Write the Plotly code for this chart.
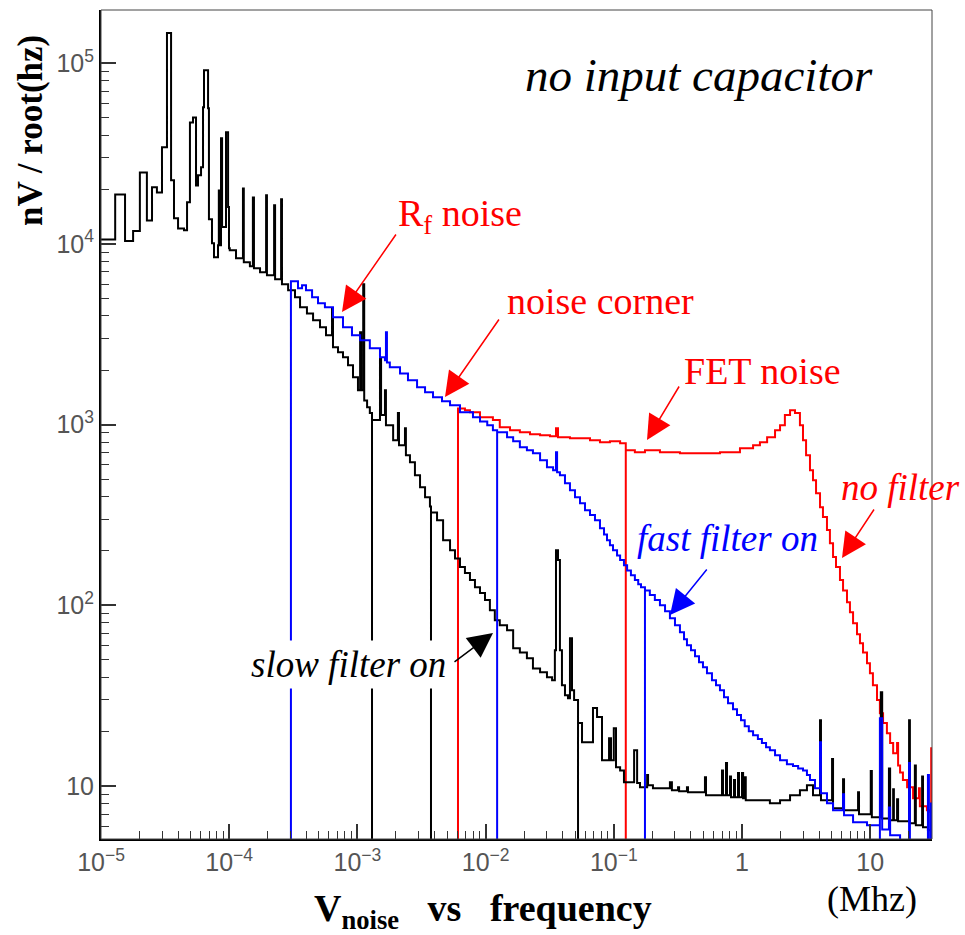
import plotly.graph_objects as go

# ---------------- data (frequency in MHz, noise in nV/sqrt(Hz)) ----------------
# each series is a stepped histogram; a value of 1 marks a drop to the bottom between sub-ranges
black_f = [1.00e-5, 1.29e-5, 1.54e-5, 1.78e-5, 2.01e-5, 2.28e-5, 2.50e-5, 2.73e-5, 2.99e-5, 3.27e-5,
           3.52e-5, 3.71e-5, 3.99e-5, 4.44e-5, 4.69e-5, 4.94e-5, 5.22e-5, 5.51e-5, 5.71e-5, 6.03e-5,
           6.25e-5, 6.36e-5, 6.84e-5, 6.95e-5, 7.34e-5, 7.61e-5, 8.18e-5, 8.30e-5, 8.47e-5, 8.63e-5,
           8.80e-5, 9.44e-5, 9.80e-5, 9.96e-5,
           1.01e-4, 1.13e-4, 1.28e-4, 1.30e-4, 1.45e-4, 1.53e-4, 1.56e-4, 1.74e-4, 1.94e-4, 1.97e-4,
           2.24e-4, 2.28e-4, 2.54e-4, 2.58e-4, 2.88e-4, 3.26e-4, 3.57e-4, 4.04e-4, 4.51e-4, 5.11e-4,
           5.69e-4, 6.34e-4, 6.45e-4, 7.06e-4, 7.72e-4, 8.45e-4, 9.24e-4, 1.01e-3, 1.05e-3, 1.07e-3,
           1.11e-3, 1.13e-3, 1.19e-3, 1.25e-3, 1.30e-3,
           1.30e-3, 1.50e-3, 1.53e-3, 1.64e-3, 1.67e-3, 1.90e-3, 2.07e-3, 2.11e-3, 2.35e-3, 2.39e-3,
           2.57e-3, 2.81e-3, 3.08e-3, 3.37e-3, 3.68e-3, 3.75e-3,
           3.75e-3, 4.18e-3, 4.66e-3, 5.28e-3, 5.77e-3, 6.31e-3, 6.90e-3, 7.55e-3, 8.26e-3, 9.04e-3,
           9.89e-3, 1.08e-2, 1.18e-2, 1.29e-2, 1.47e-2, 1.64e-2, 1.85e-2, 2.10e-2, 2.34e-2, 2.66e-2,
           3.01e-2, 3.30e-2, 3.47e-2, 3.54e-2, 3.67e-2, 3.80e-2, 3.94e-2, 4.16e-2, 4.39e-2, 4.55e-2,
           4.72e-2, 4.90e-2, 5.26e-2,
           5.26e-2, 5.65e-2, 6.88e-2, 7.40e-2, 8.09e-2, 9.18e-2, 9.51e-2, 1.00e-1, 1.04e-1, 1.12e-1,
           1.20e-1, 1.44e-1, 1.52e-1, 1.60e-1, 1.82e-1, 1.85e-1, 2.02e-1, 2.74e-1, 2.84e-1, 3.17e-1,
           3.23e-1, 3.72e-1, 3.79e-1, 5.14e-1, 5.24e-1, 6.98e-1, 7.11e-1, 7.50e-1, 7.64e-1, 8.06e-1,
           8.21e-1, 8.66e-1, 8.82e-1, 9.31e-1, 9.48e-1, 1.00, 1.02, 1.05, 1.07, 1.31,
           1.65, 1.98, 2.37, 2.83, 3.21, 3.58, 4.06, 4.13, 5.04, 5.13,
           6.14, 6.25, 8.04, 8.18, 10.1, 10.3, 12.1, 12.4, 14.0, 14.3,
           15.1, 15.3, 16.2, 16.5, 20.1, 20.4, 22.3, 22.7, 25.4, 25.8,
           28.2, 34.0]
black_v = [1.06e4, 1.88e4, 1.04e4, 1.18e4, 2.49e4, 1.35e4, 2.06e4, 1.93e4, 3.43e4, 1.47e5,
           2.25e4, 1.39e4, 1.22e4, 1.19e4, 1.70e4, 4.71e4, 5.02e4, 2.11e4, 2.40e4, 2.66e4,
           5.71e4, 9.15e4, 5.64e4, 1.37e4, 1.01e4, 8.44e3, 9.84e3, 1.98e4, 9.84e3, 3.85e4,
           1.24e4, 4.15e4, 1.60e4, 9.47e3,
           9.23e3, 8.34e3, 2.03e4, 7.92e3, 7.54e3, 1.81e4, 7.35e3, 6.97e3, 1.86e4, 6.72e3,
           1.64e4, 6.38e3, 1.77e4, 5.98e3, 5.54e3, 5.07e3, 4.47e3, 4.13e3, 3.78e3, 3.46e3,
           3.13e3, 4.41e3, 2.68e3, 2.52e3, 2.36e3, 2.13e3, 1.83e3, 1.55e3, 3.25e3, 1.55e3,
           5.98e3, 1.36e3, 1.25e3, 1.16e3, 1,
           1.06e3, 2.33e3, 1.13e3, 1.55e3, 993, 820, 1.16e3, 769, 955, 678,
           620, 525, 451, 397, 353, 1,
           327, 296, 229, 202, 182, 163, 151, 138, 126, 117,
           107, 94.0, 82.8, 77.6, 72.8, 57.9, 54.9, 50.9, 44.8, 42.7,
           40.0, 38.5, 56.4, 202, 178, 56.4, 36.1, 31.8, 30.6, 65.8,
           33.9, 29.9, 1,
           22.3, 17.5, 27.0, 24.1, 13.9, 18.4, 13.9, 20.9, 12.7, 12.2,
           10.5, 15.8, 10.4, 9.84, 11.5, 10.1, 9.72, 10.5, 9.48, 9.84,
           9.36, 9.84, 9.24, 11.2, 8.89, 12.2, 8.89, 13.4, 8.89, 11.3,
           8.67, 10.8, 8.67, 11.8, 8.67, 11.8, 8.56, 11.2, 8.34, 8.34,
           8.04, 8.34, 8.89, 9.48, 10.1, 8.89, 23.1, 8.34, 14.1, 7.53,
           10.9, 7.35, 9.24, 6.98, 12.1, 6.72, 33.0, 6.62, 12.5, 6.47,
           9.60, 6.47, 8.45, 6.38, 23.1, 6.22, 13.0, 6.07, 11.3, 5.92,
           5.70, 5.70]

blue_f = [3.03e-4, 3.03e-4, 3.44e-4, 3.70e-4, 3.97e-4, 4.43e-4, 4.93e-4, 5.58e-4, 6.45e-4, 7.72e-4,
          9.07e-4, 1.05e-3, 1.25e-3, 1.50e-3, 1.64e-3, 1.67e-3, 1.70e-3, 1.79e-3, 2.15e-3, 2.48e-3,
          2.92e-3, 3.37e-3, 3.89e-3, 4.57e-3, 5.28e-3, 6.31e-3, 7.97e-3, 9.04e-3, 1.03e-2, 1.14e-2,
          1.23e-2,
          1.23e-2, 1.47e-2, 1.64e-2, 1.85e-2, 2.10e-2, 2.34e-2, 2.66e-2, 3.01e-2, 3.36e-2, 3.54e-2,
          3.61e-2, 3.80e-2, 4.16e-2, 4.55e-2, 4.98e-2, 5.45e-2, 5.96e-2, 6.52e-2, 7.13e-2, 7.80e-2,
          8.39e-2, 8.85e-2, 9.33e-2, 9.86e-2, 1.06e-1, 1.12e-1, 1.20e-1, 1.27e-1, 1.36e-1, 1.46e-1,
          1.55e-1, 1.63e-1, 1.75e-1,
          1.75e-1, 1.91e-1, 2.09e-1, 2.29e-1, 2.51e-1, 2.74e-1, 3.00e-1, 3.28e-1, 3.53e-1, 3.72e-1,
          4.00e-1, 4.30e-1, 4.62e-1, 4.96e-1, 5.33e-1, 5.83e-1, 6.27e-1, 6.73e-1, 7.24e-1, 7.78e-1,
          8.51e-1, 9.14e-1, 9.82e-1, 1.05, 1.13, 1.22, 1.33, 1.43, 1.54, 1.65,
          1.81, 1.98, 2.24, 2.50, 2.74, 2.99, 3.21, 3.39, 3.71, 4.06,
          4.13, 4.60, 5.13, 6.14, 6.25, 7.35, 9.44, 11.9,
          11.9, 12.4, 14.0, 14.3, 15.1, 17.1, 20.1,
          20.1, 20.4, 28.2,
          28.2, 28.7, 29.8,
          29.8, 35.0]
blue_v = [1, 6.22e3, 5.69e3, 5.91e3, 5.54e3, 5.07e3, 4.70e3, 4.47e3, 3.93e3, 3.46e3,
          3.13e3, 2.93e3, 2.65e3, 2.36e3, 2.27e3, 3.25e3, 2.21e3, 2.08e3, 1.92e3, 1.76e3,
          1.61e3, 1.51e3, 1.42e3, 1.35e3, 1.28e3, 1.17e3, 1.10e3, 1.04e3, 993, 931,
          1,
          908, 851, 809, 750, 722, 695, 636, 581, 560, 703,
          546, 525, 474, 433, 397, 367, 336, 316, 296, 267,
          247, 229, 215, 202, 189, 178, 167, 156, 147, 138,
          131, 126, 1,
          121, 114, 107, 100, 92.7, 84.9, 77.6, 70.9, 64.9, 60.1,
          56.4, 52.3, 48.4, 45.4, 42.1, 38.5, 36.1, 33.9, 31.0, 28.7,
          26.6, 24.7, 23.1, 21.4, 20.1, 19.1, 18.2, 17.3, 16.4, 15.8,
          14.8, 13.9, 13.2, 12.9, 12.5, 12.2, 11.5, 10.8, 9.72, 17.5,
          9.12, 8.04, 7.35, 9.02, 6.89, 6.31, 6.07, 1,
          23.7, 5.75, 7.6, 5.34, 5.34, 5.0, 1,
          13.4, 4.8, 1,
          11.5, 4.8, 1,
          8.0, 8.0]

red_f = [6.09e-3, 6.09e-3, 6.90e-3, 7.55e-3, 9.04e-3, 1.14e-2, 1.29e-2, 1.55e-2, 1.85e-2, 2.22e-2,
         2.66e-2, 3.18e-2, 3.54e-2, 3.67e-2, 4.55e-2, 5.45e-2, 6.52e-2, 7.80e-2, 9.33e-2, 1.12e-1,
         1.24e-1,
         1.24e-1, 1.46e-1, 1.75e-1, 2.29e-1, 3.28e-1, 4.70e-1, 6.73e-1, 9.64e-1, 1.22, 1.38,
         1.57, 1.81, 1.98, 2.16, 2.37, 2.59, 2.83, 2.99, 3.16, 3.39,
         3.58, 3.78, 4.06, 4.28, 4.60, 4.85, 5.13, 5.41, 5.81, 6.14,
         6.59, 6.95, 7.35, 7.89, 8.32, 8.79, 9.44, 9.95, 10.5, 11.3,
         11.9, 12.6, 13.5, 14.3, 15.1, 16.2, 16.5, 17.1, 18.0, 19.4,
         21.6, 24.0, 24.4, 27.7, 29.3, 29.9, 30.4]
red_v = [1, 1.23e3, 1.20e3, 1.17e3, 1.10e3, 1.06e3, 968, 931, 908, 885,
         873, 862, 955, 851, 841, 841, 820, 800, 809, 789,
         1,
         722, 703, 722, 703, 695, 695, 703, 740, 769, 800,
         851, 931, 993, 1130, 1200, 1160, 993, 820, 678, 560,
         492, 417, 349, 308, 261, 221, 185, 163, 138, 121,
         104, 91.6, 79.6, 69.2, 61.7, 54.9, 47.8, 42.1, 36.1, 29.9,
         25.3, 22.3, 19.6, 17.3, 15.2, 17.3, 13.0, 11.9, 10.8, 9.84,
         8.56, 9.72, 7.72, 7.35, 7.2, 16.2, 1]

assert len(black_f) == len(black_v)
assert len(blue_f) == len(blue_v)
assert len(red_f) == len(red_v)

x_tick_vals = [1e-5, 1e-4, 1e-3, 1e-2, 1e-1, 1, 10]
x_tick_text = ["10<sup>\u22125</sup>", "10<sup>\u22124</sup>", "10<sup>\u22123</sup>",
               "10<sup>\u22122</sup>", "10<sup>\u22121</sup>", "1", "10"]
y_tick_vals = [10, 100, 1000, 10000, 100000]
y_tick_text = ["10", "10<sup>2</sup>", "10<sup>3</sup>", "10<sup>4</sup>", "10<sup>5</sup>"]

x_minor = [m * 10.0 ** e for e in range(-5, 2) for m in range(2, 10)]
y_minor = [m * 10.0 ** e for e in range(0, 6) for m in range(2, 10)]

# ---------------- figure ----------------
fig = go.Figure()
for f, v, c in [(red_f, red_v, "#ff0000"), (black_f, black_v, "#000000"), (blue_f, blue_v, "#0000ff")]:
    fig.add_trace(go.Scatter(x=f, y=v, mode="lines", line=dict(color=c, width=2, shape="hv"),
                             hoverinfo="skip"))

W, H = 965, 935
L, R, T, B = 101, 33, 10, 96
PW, PH = W - L - R, H - T - B


def px(x):
    return (x - L) / PW


def py(y):
    return (H - B - y) / PH


SERIF = "Liberation Serif"
annotations = []


def text(t, x, y, size, color="black", bold=False, italic=False, angle=0, bg=None, pad=1):
    s = t
    if bold:
        s = "<b>" + s + "</b>"
    if italic:
        s = "<i>" + s + "</i>"
    d = dict(text=s, x=px(x), y=py(y), xref="paper", yref="paper", showarrow=False,
             xanchor="center", yanchor="middle", textangle=angle,
             font=dict(family=SERIF, size=size, color=color), borderpad=pad)
    if bg:
        d["bgcolor"] = bg
    annotations.append(d)


def arrow(tip, tail, color):
    annotations.append(dict(text="", x=px(tip[0]), y=py(tip[1]), xref="paper", yref="paper",
                            showarrow=True, ax=tail[0] - tip[0], ay=tail[1] - tip[1],
                            arrowhead=2, arrowsize=3.3, arrowwidth=1.5, arrowcolor=color))


text("no input capacitor", 699, 75, 47, italic=True)
text("R<sub>f</sub> noise", 460, 216, 38, color="#ff0000")
text("noise corner", 600, 301, 38, color="#ff0000")
text("FET noise", 762, 371, 38, color="#ff0000")
text("no filter", 900, 487, 37, color="#ff0000", italic=True)
text("fast filter on", 727, 539, 37, color="#0000ff", italic=True)
text("slow filter on", 348, 664, 37, italic=True, bg="white", pad=3)
text("(Mhz)", 872, 899, 36)
text("V<sub>noise</sub>\u00a0\u00a0 vs \u00a0\u00a0frequency", 483, 911, 38, bold=True)
text("nV / root(hz)", 31, 131, 35, bold=True, angle=-90)

arrow((342, 312), (397, 233), "#ff0000")
arrow((445, 397), (500, 318), "#ff0000")
arrow((647, 440), (680, 385), "#ff0000")
arrow((842, 558), (875, 508), "#ff0000")
arrow((670, 615), (708, 568), "#0000ff")
arrow((493, 633), (453, 663), "#000000")

tickfont = dict(family="Liberation Sans", size=25, color="#555555")
common = dict(type="log", showgrid=False, zeroline=False, showline=True, linecolor="black",
              linewidth=2, ticks="inside", ticklen=15, tickwidth=1.5, tickcolor="#333333",
              tickmode="array")

fig.update_xaxes(range=[-5, 1.482], tickvals=x_tick_vals, ticktext=x_tick_text, tickfont=tickfont,
                 minor=dict(tickmode="array", tickvals=x_minor, ticks="inside", ticklen=8,
                            tickwidth=1.2, tickcolor="#333333", showgrid=False), **common)
fig.update_yaxes(range=[0.707, 5.295], tickvals=y_tick_vals, ticktext=y_tick_text, tickfont=tickfont,
                 minor=dict(tickmode="array", tickvals=y_minor, ticks="inside", ticklen=8,
                            tickwidth=1.2, tickcolor="#333333", showgrid=False), **common)

fig.update_layout(
    width=W, height=H,
    margin=dict(l=L, r=R, t=T, b=B),
    paper_bgcolor="white", plot_bgcolor="white",
    showlegend=False,
    annotations=annotations,
    shapes=[dict(type="rect", xref="paper", yref="paper", x0=0, x1=1, y0=0, y1=1,
                 line=dict(color="#444444", width=1), layer="above")],
)

fig.write_html("out.html")
